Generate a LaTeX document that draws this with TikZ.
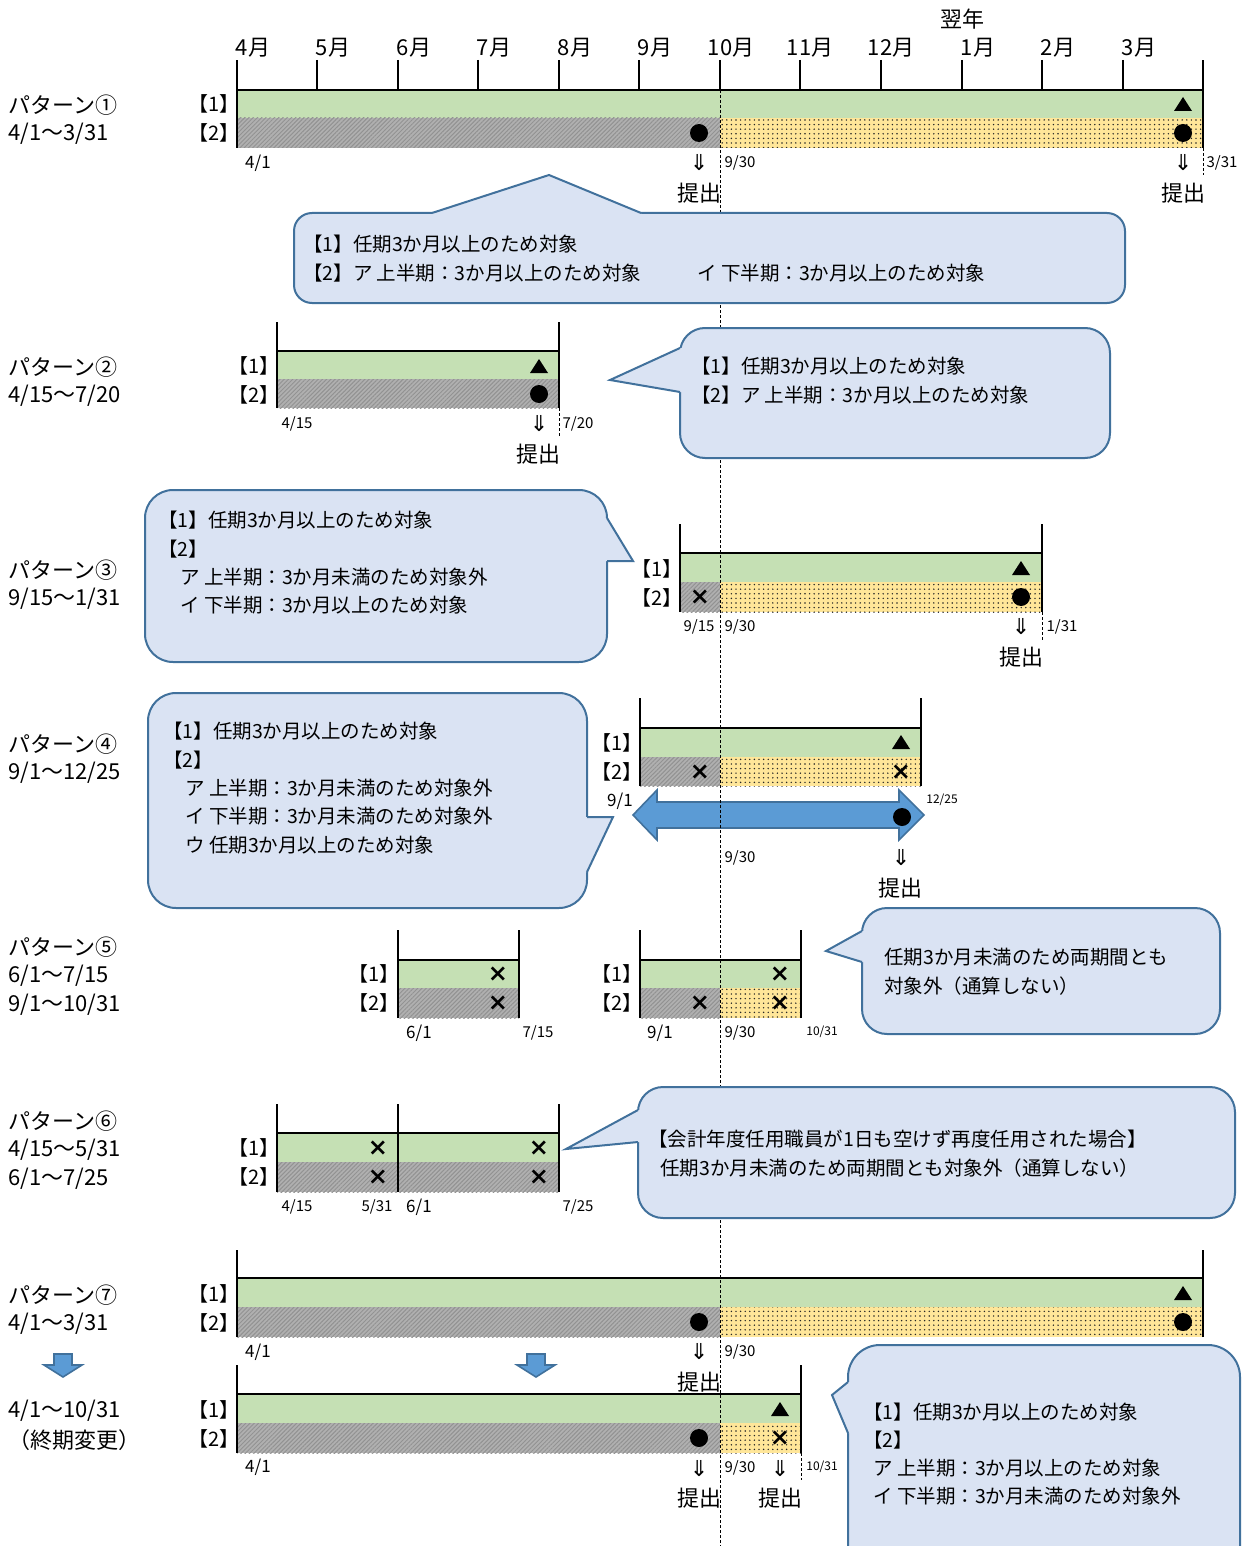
\documentclass[tikz,border=0pt]{standalone}
\usepackage{fontspec}
\setmainfont{Noto Sans CJK JP}
\newfontfamily\markfont{DejaVu Sans}
\usepackage{xcolor}
\usepackage{tikz}
\usetikzlibrary{patterns.meta}

\definecolor{rowgreen}{HTML}{C5E0B4}
\definecolor{rowyellow}{HTML}{FFE699}
\definecolor{rowgray}{HTML}{B0B0B0}
\definecolor{hatchgray}{HTML}{929292}
\definecolor{balloonfill}{HTML}{DAE3F3}
\definecolor{balloonedge}{HTML}{41719C}
\definecolor{arrowblue}{HTML}{5B9BD5}

\tikzset{
  rowone/.style={fill=rowgreen},
  rowhatch/.style={preaction={fill=rowgray}, pattern={Lines[angle=45,distance=3pt,line width=1pt]}, pattern color=hatchgray},
  rowdots/.style={preaction={fill=rowyellow}, pattern={Dots[distance=4.6pt,radius=0.8pt]}, pattern color=black!85},
  frame/.style={line width=2.2pt},
  balloon/.style={fill=balloonfill, draw=balloonedge, line width=2pt},
  tailedge/.style={draw=balloonedge, line width=2pt, line join=miter},
  blockarrow/.style={fill=arrowblue, draw=balloonedge, line width=1.6pt},
  cutline/.style={dash pattern=on 3pt off 2pt, line width=0.8pt},
  marktext/.style={inner sep=0pt, font=\markfont\bfseries\fontsize{24}{24}\selectfont},
  pname/.style={anchor=west, inner sep=0pt, font=\fontsize{22}{26}\selectfont},
  month/.style={inner sep=0pt, font=\fontsize{22}{26}\selectfont},
  rowlab/.style={inner sep=0pt, font=\fontsize{20}{24}\selectfont},
  dt/.style={inner sep=0pt, font=\fontsize{15}{18}\selectfont},
  dtbig/.style={inner sep=0pt, font=\fontsize{17}{20}\selectfont},
  dtsmall/.style={inner sep=0pt, font=\fontsize{12}{14}\selectfont},
  submit/.style={inner sep=0pt, font=\fontsize{22}{26}\selectfont},
  down/.style={inner sep=0pt, font=\markfont\fontsize{22}{24}\selectfont},
  btext/.style={anchor=west, inner sep=0pt, font=\fontsize{19.5}{24}\selectfont},
}

\begin{document}
\begin{tikzpicture}[x=1pt, y=-1pt, >=stealth]
\useasboundingbox (0,0) rectangle (1245,1546);

% --- Pattern 1: full year with month axis ---
\node[month] (nextyear) at (962,19) {翌年};
\foreach \x/\m/\dx in {237/4/16, 317/5/16, 398/6/16, 478/7/16, 559/8/16, 639/9/16, 720/10/11, 800/11/10, 881/12/10, 962/1/16, 1042/2/16, 1123/3/16}
  \node[month] (m\m) at (\x+\dx,48) {{\m}月};
\path[rowone] (237,90) rectangle (1203,118);
\path[rowhatch] (237,118) rectangle (720,148);
\path[rowdots] (720,118) rectangle (1203,148);
\foreach \x in {317,398,478,559,639,720,800,881,962,1042,1123}
  \draw[frame] (\x,60) -- (\x,90);
\draw[frame] (237,148) -- (237,60);
\draw[frame] (1203,148) -- (1203,60);
\draw[frame] (237,90) -- (1203,90);
\draw[cutline] (1203,148) -- (1203,175);

% --- Pattern 2 ---
\path[rowone] (277,351) rectangle (559,379);
\path[rowhatch] (277,379) rectangle (559,408);
\draw[frame] (277,408) -- (277,322);
\draw[frame] (559,408) -- (559,322);
\draw[frame] (277,351) -- (559,351);
\draw[cutline] (559,408) -- (559,436);

% --- Pattern 3 ---
\path[rowone] (680,553) rectangle (1042,582);
\path[rowhatch] (680,582) rectangle (720,612);
\path[rowdots] (720,582) rectangle (1042,612);
\draw[frame] (680,612) -- (680,524);
\draw[frame] (1042,612) -- (1042,524);
\draw[frame] (680,553) -- (1042,553);
\draw[cutline] (1042,612) -- (1042,640);

% --- Pattern 4 ---
\path[rowone] (640,728) rectangle (921,757);
\path[rowhatch] (640,757) rectangle (720,786);
\path[rowdots] (720,757) rectangle (921,786);
\draw[frame] (640,786) -- (640,698);
\draw[frame] (921,786) -- (921,698);
\draw[frame] (640,728) -- (921,728);
\draw[blockarrow] (633,815) -- (657,790) -- (657,802) -- (899,802) -- (899,790) -- (924,815) -- (899,840) -- (899,828) -- (657,828) -- (657,840) -- cycle;

% --- Pattern 5 ---
\path[rowone] (398,960) rectangle (519,988);
\path[rowhatch] (398,988) rectangle (519,1018);
\draw[frame] (398,1018) -- (398,930);
\draw[frame] (519,1018) -- (519,930);
\draw[frame] (398,960) -- (519,960);
\path[rowone] (640,960) rectangle (801,988);
\path[rowhatch] (640,988) rectangle (720,1018);
\path[rowdots] (720,988) rectangle (801,1018);
\draw[frame] (640,1018) -- (640,930);
\draw[frame] (801,1018) -- (801,930);
\draw[frame] (640,960) -- (801,960);

% --- Pattern 6 ---
\path[rowone] (277,1133) rectangle (559,1162);
\path[rowhatch] (277,1162) rectangle (559,1192);
\foreach \x in {277,398,559}
  \draw[frame] (\x,1192) -- (\x,1104);
\draw[frame] (277,1133) -- (559,1133);

% --- Pattern 7 and changed end date ---
\path[rowone] (237,1278) rectangle (1203,1307);
\path[rowhatch] (237,1307) rectangle (720,1337);
\path[rowdots] (720,1307) rectangle (1203,1337);
\draw[frame] (237,1337) -- (237,1250);
\draw[frame] (1203,1337) -- (1203,1250);
\draw[frame] (237,1278) -- (1203,1278);
\path[rowone] (237,1394) rectangle (801,1423);
\path[rowhatch] (237,1423) rectangle (720,1453);
\path[rowdots] (720,1423) rectangle (801,1453);
\draw[frame] (237,1453) -- (237,1365);
\draw[frame] (801,1453) -- (801,1365);
\draw[frame] (237,1394) -- (801,1394);
\draw[cutline] (801,1453) -- (801,1480);
\foreach \x in {63,536}
  \draw[blockarrow] (\x-9,1354) -- (\x+9,1354) -- (\x+9,1365) -- (\x+19,1365) -- (\x,1377) -- (\x-19,1365) -- (\x-9,1365) -- cycle;

% markers: triangles, circles, crosses
\foreach \x/\y in {1183/104, 539/366, 1021/568, 901/742, 1183/1293, 780/1409}
  \fill (\x-9,\y+7) -- (\x+9,\y+7) -- (\x,\y-7) -- cycle;
\foreach \x/\y in {699/133, 1183/133, 539/394, 1021/597, 902/817, 699/1322, 1183/1322, 699/1438}
  \fill (\x,\y) circle (9pt);
\foreach \x/\y in {700/597, 700/772, 901/772, 498/974, 498/1003, 780/974, 700/1003, 780/1003, 378/1148, 378/1177, 539/1148, 539/1177, 780/1438}
  \node[marktext] (cross-\x-\y) at (\x,\y) {×};

% 9/30 boundary
\draw[cutline] (720,90) -- (720,1546);

% --- Balloons ---
\draw[balloon, rounded corners=18pt] (294,213) rectangle (1125,303);
\fill[balloonfill] (432,213) -- (549,175) -- (641,213) -- (641,216) -- (432,216) -- cycle;
\draw[tailedge] (432,213) -- (549,175) -- (641,213);

\draw[balloon, rounded corners=25pt] (680,328) rectangle (1110,458);
\fill[balloonfill] (680,348) -- (610,380) -- (680,392) -- (683,392) -- (683,348) -- cycle;
\draw[tailedge] (680,348) -- (610,380) -- (680,392);

\draw[balloon, rounded corners=28pt] (145,490) rectangle (607,662);
\fill[balloonfill] (607,518) -- (633,561) -- (607,561) -- (604,561) -- (604,518) -- cycle;
\draw[tailedge] (607,518) -- (633,561) -- (607,561);

\draw[balloon, rounded corners=28pt] (148,693) rectangle (587,908);
\fill[balloonfill] (587,817) -- (613,817) -- (587,872) -- (584,872) -- (584,817) -- cycle;
\draw[tailedge] (587,817) -- (613,817) -- (587,872);

\draw[balloon, rounded corners=25pt] (862,908) rectangle (1220,1034);
\fill[balloonfill] (862,931) -- (826,951) -- (862,962) -- (865,962) -- (865,931) -- cycle;
\draw[tailedge] (862,931) -- (826,951) -- (862,962);

\draw[balloon, rounded corners=25pt] (638,1087) rectangle (1235,1218);
\fill[balloonfill] (638,1110) -- (566,1149) -- (638,1142) -- (641,1142) -- (641,1110) -- cycle;
\draw[tailedge] (638,1110) -- (566,1149) -- (638,1142);

\draw[balloon, rounded corners=32pt] (848,1345) rectangle (1240,1590);
\fill[balloonfill] (848,1382) -- (832,1395) -- (848,1433) -- (851,1433) -- (851,1382) -- cycle;
\draw[tailedge] (848,1382) -- (832,1395) -- (848,1433);

% --- Pattern names ---
\node[pname] (p1a) at (8,105) {パターン①};
\node[pname] (p1b) at (8,134) {4/1～3/31};
\node[pname] (p2a) at (8,367) {パターン②};
\node[pname] (p2b) at (8,396) {4/15～7/20};
\node[pname] (p3a) at (8,570) {パターン③};
\node[pname] (p3b) at (8,599) {9/15～1/31};
\node[pname] (p4a) at (8,744) {パターン④};
\node[pname] (p4b) at (8,773) {9/1～12/25};
\node[pname] (p5a) at (8,947) {パターン⑤};
\node[pname] (p5b) at (8,976) {6/1～7/15};
\node[pname] (p5c) at (8,1005) {9/1～10/31};
\node[pname] (p6a) at (8,1121) {パターン⑥};
\node[pname] (p6b) at (8,1150) {4/15～5/31};
\node[pname] (p6c) at (8,1179) {6/1～7/25};
\node[pname] (p7a) at (8,1295) {パターン⑦};
\node[pname] (p7b) at (8,1324) {4/1～3/31};
\node[pname] (p7c) at (8,1411) {4/1～10/31};
\node[pname] (p7d) at (8,1440) {（終期変更）};

% row labels
\foreach \x/\ya/\yb in {214/104/133, 254/366/395, 657/569/598, 617/743/772, 374/974/1003, 617/974/1003, 254/1148/1177, 214/1294/1323, 214/1410/1439} {
  \node[rowlab] (one-\x-\ya) at (\x,\ya) {【1】};
  \node[rowlab] (two-\x-\yb) at (\x,\yb) {【2】};
}

% dates
\node[dtbig] (d1a) at (258,163) {4/1};
\node[dt] (d1b) at (740,163) {9/30};
\node[dt] (d1c) at (1222,163) {3/31};
\node[dt] (d2a) at (297,424) {4/15};
\node[dt] (d2b) at (578,424) {7/20};
\node[dt] (d3a) at (699,627) {9/15};
\node[dt] (d3b) at (740,627) {9/30};
\node[dt] (d3c) at (1062,627) {1/31};
\node[dtbig] (d4a) at (620,801) {9/1};
\node[dtsmall] (d4b) at (942,800) {12/25};
\node[dt] (d4c) at (740,858) {9/30};
\node[dtbig] (d5a) at (419,1033) {6/1};
\node[dt] (d5b) at (538,1033) {7/15};
\node[dtbig] (d5c) at (660,1033) {9/1};
\node[dt] (d5d) at (740,1033) {9/30};
\node[dtsmall] (d5e) at (822,1032) {10/31};
\node[dt] (d6a) at (297,1207) {4/15};
\node[dt] (d6b) at (377,1207) {5/31};
\node[dtbig] (d6c) at (419,1207) {6/1};
\node[dt] (d6d) at (578,1207) {7/25};
\node[dtbig] (d7a) at (258,1352) {4/1};
\node[dt] (d7b) at (740,1352) {9/30};
\node[dtbig] (d7c) at (258,1467) {4/1};
\node[dt] (d7d) at (740,1468) {9/30};
\node[dtsmall] (d7e) at (822,1467) {10/31};

% submission marks
\foreach \x/\y in {699/163, 1183/163, 539/424, 1021/627, 901/858, 699/1352, 699/1468, 780/1468}
  \node[down] (dn-\x-\y) at (\x,\y) {⇓};
\foreach \x/\y in {699/193, 1183/193, 538/454, 1021/657, 900/888, 699/1382, 699/1498, 780/1498}
  \node[submit] (sub-\x-\y) at (\x,\y) {提出};

% balloon texts
\node[btext] (t1a) at (303,244) {【1】任期3か月以上のため対象};
\node[btext] (t1b) at (303,273) {【2】ア 上半期：3か月以上のため対象};
\node[btext] (t1c) at (697,273) {イ 下半期：3か月以上のため対象};
\node[btext] (t2a) at (691,366) {【1】任期3か月以上のため対象};
\node[btext] (t2b) at (691,395) {【2】ア 上半期：3か月以上のため対象};
\node[btext] (t3a) at (158,520) {【1】任期3か月以上のため対象};
\node[btext] (t3b) at (158,549) {【2】};
\node[btext] (t3c) at (180,577) {ア 上半期：3か月未満のため対象外};
\node[btext] (t3d) at (180,605) {イ 下半期：3か月以上のため対象};
\node[btext] (t4a) at (163,731) {【1】任期3か月以上のため対象};
\node[btext] (t4b) at (163,760) {【2】};
\node[btext] (t4c) at (185,788) {ア 上半期：3か月未満のため対象外};
\node[btext] (t4d) at (185,816) {イ 下半期：3か月未満のため対象外};
\node[btext] (t4e) at (185,845) {ウ 任期3か月以上のため対象};
\node[btext] (t5a) at (884,957) {任期3か月未満のため両期間とも};
\node[btext] (t5b) at (884,986) {対象外（通算しない）};
\node[btext] (t6a) at (648,1139) {【会計年度任用職員が1日も空けず再度任用された場合】};
\node[btext] (t6b) at (660,1168) {任期3か月未満のため両期間とも対象外（通算しない）};
\node[btext] (t7a) at (863,1412) {【1】任期3か月以上のため対象};
\node[btext] (t7b) at (863,1440) {【2】};
\node[btext] (t7c) at (873,1468) {ア 上半期：3か月以上のため対象};
\node[btext] (t7d) at (873,1496) {イ 下半期：3か月未満のため対象外};
\end{tikzpicture}
\end{document}
